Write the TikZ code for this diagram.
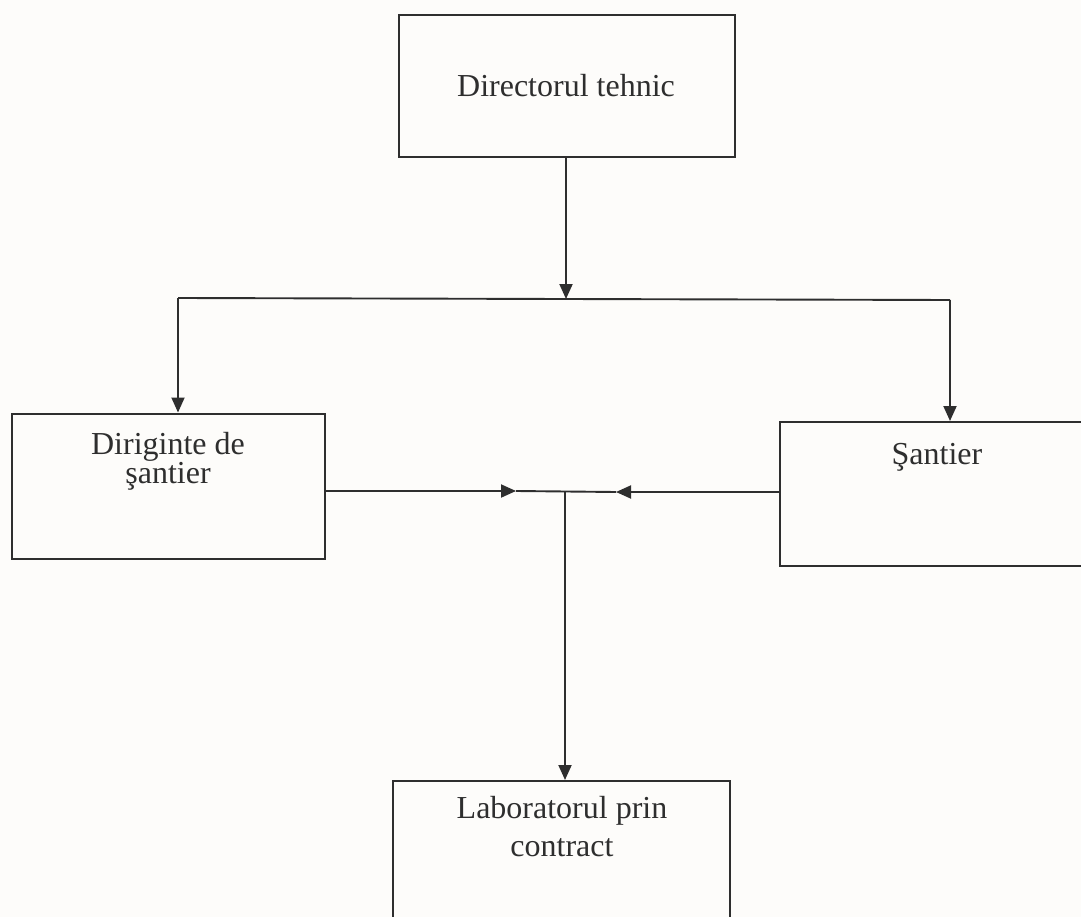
\documentclass[tikz,border=0pt]{standalone}
\usepackage{fontspec}
\setmainfont{Liberation Serif}
\usetikzlibrary{arrows.meta}
\definecolor{ink}{HTML}{2E2E2E}
\definecolor{paper}{HTML}{FDFCFA}
\begin{document}
\begin{tikzpicture}[x=1pt,y=-1pt,
  box/.style={draw=ink,line width=2pt,rectangle,inner sep=0pt},
  lbl/.style={anchor=base,inner sep=0pt,text=ink,font=\fontsize{32}{38}\selectfont},
  conn/.style={draw=ink,line width=1.9pt},
  tip/.style={conn,-{Triangle[length=15pt,width=13pt]}}]
\useasboundingbox (0,0) rectangle (1081,917);
\fill[paper] (0,0) rectangle (1081,917);
\clip (0,0) rectangle (1081,917);
% boxes
\node[box,minimum width=336pt,minimum height=142pt] (dir) at (567,86) {};
\node[box,minimum width=313pt,minimum height=145pt] (dir2) at (168.5,486) {};
\node[box,minimum width=310pt,minimum height=144pt] (san) at (935,494) {};
\node[box,minimum width=337pt,minimum height=160pt] (lab) at (561.5,861) {};
% texts
\node[lbl] (tdir) at (566,97) {Directorul tehnic};
\node[lbl] (tdir2a) at (168,454) {Diriginte de};
\node[lbl] (tdir2b) at (168,483) {şantier};
\node[lbl] (tsan) at (937,464) {Şantier};
\node[lbl] (tlaba) at (562,818) {Laboratorul prin};
\node[lbl] (tlabb) at (562,856) {contract};
% junctions
\coordinate (jt) at (566,299);
\coordinate (jl) at (178,298);
\coordinate (jr) at (950,300);
\coordinate (jm) at (565,491);
\coordinate (al) at (516,491);
\coordinate (ar) at (616,492);
% connectors
\draw[tip] (dir.south -| jt) -- (jt);
\draw[conn] (jl) -- (jr);
\draw[tip] (jl) -- (jl |- dir2.north);
\draw[tip] (jr) -- (jr |- san.north);
\draw[tip] (dir2.east |- al) -- (al);
\draw[tip] (san.west |- ar) -- (ar);
\draw[conn] (al) -- (ar);
\draw[tip] (jm) -- (jm |- lab.north);
\end{tikzpicture}
\end{document}
